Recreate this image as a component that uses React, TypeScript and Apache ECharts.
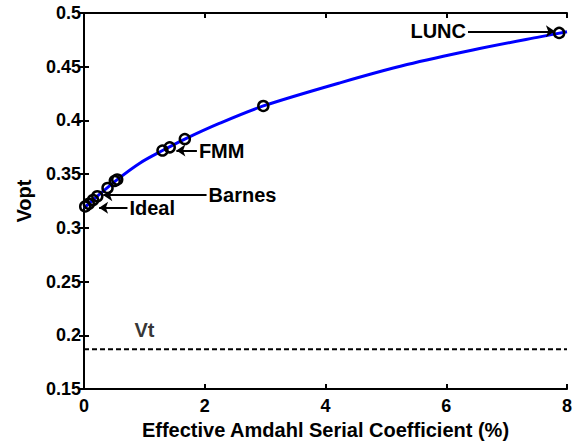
import React, { useEffect, useRef } from "react";
import * as echarts from "echarts";

// Fitted Vopt curve
const curveX = [0, 0.21, 0.55, 0.93, 1.3, 1.67, 2.25, 2.97, 4.24, 5.35, 6.44, 7.55, 8.0];
const curveY = [0.3185, 0.329, 0.345, 0.3605, 0.372, 0.3827, 0.3975, 0.4135, 0.435, 0.452, 0.4656, 0.4778, 0.4825];

// Measured applications (circles)
const pointX = [0.02, 0.08, 0.15, 0.22, 0.39, 0.51, 0.55, 1.3, 1.42, 1.67, 2.97, 7.87];
const pointY = [0.320, 0.3225, 0.326, 0.3295, 0.3372, 0.3437, 0.3451, 0.372, 0.375, 0.3827, 0.4135, 0.4815];

// Threshold line
const vtValue = 0.187;
const vtLabel = "Vt";
const vtLabelX = 1.0;

// Annotations
const annotationLabels = ["LUNC", "FMM", "Barnes", "Ideal"];
const annotationFromX = [6.36, 1.87, 2.03, 0.72];
const annotationToX = [7.8, 1.53, 0.32, 0.25];
const annotationY = [0.483, 0.372, 0.3305, 0.3187];

// Axes
const xMin = 0, xMax = 8, xStep = 2;
const yMin = 0.15, yMax = 0.5, yStep = 0.05;
const xTitle = "Effective Amdahl Serial Coefficient (%)";
const yTitle = "Vopt";

const FONT = "'Liberation Sans', Arial, Helvetica, sans-serif";

export default function App() {
  const ref = useRef<HTMLDivElement>(null);
  useEffect(() => {
    document.body.style.margin = "0";
    const chart = echarts.init(ref.current!, null, { renderer: "svg" });
    const axisLine = { show: true, lineStyle: { color: "#000", width: 2 } };
    const tickStyle = { show: true, inside: true, length: 5, lineStyle: { color: "#000", width: 2 } };
    const labelStyle = { color: "#000", fontFamily: FONT, fontWeight: "bold" as const, fontSize: 18 };
    const textBase = { color: "#000", fontFamily: FONT, fontWeight: "bold" as const, fontSize: 20 };

    const markData = annotationLabels.map((name, i) => [
      { coord: [annotationFromX[i], annotationY[i]], name },
      { coord: [annotationToX[i], annotationY[i]] },
    ]);

    chart.setOption({
      animation: false,
      backgroundColor: "#fff",
      grid: { left: 84, top: 13, right: 18, bottom: 53, containLabel: false },
      xAxis: [
        {
          type: "value", min: xMin, max: xMax, interval: xStep,
          axisLine, axisTick: tickStyle, splitLine: { show: false },
          axisLabel: { ...labelStyle, margin: 8 },
          name: xTitle, nameLocation: "middle", nameGap: 21,
          nameTextStyle: textBase,
        },
        {
          type: "value", position: "top", min: xMin, max: xMax, interval: xStep,
          axisLine, axisTick: tickStyle, splitLine: { show: false }, axisLabel: { show: false },
        },
      ],
      yAxis: [
        {
          type: "value", min: yMin, max: yMax, interval: yStep,
          axisLine, axisTick: tickStyle, splitLine: { show: false },
          axisLabel: { ...labelStyle, margin: 3 },
          name: yTitle, nameLocation: "middle", nameGap: 50,
          nameTextStyle: textBase,
        },
        {
          type: "value", position: "right", min: yMin, max: yMax, interval: yStep,
          axisLine, axisTick: tickStyle, splitLine: { show: false }, axisLabel: { show: false },
        },
      ],
      series: [
        {
          type: "line",
          data: curveX.map((x, i) => [x, curveY[i]]),
          smooth: 0.3,
          showSymbol: false,
          symbol: "none",
          lineStyle: { color: "#0000ff", width: 3 },
          z: 2,
        },
        {
          type: "scatter",
          data: pointX.map((x, i) => [x, pointY[i]]),
          symbol: "circle",
          symbolSize: 10,
          itemStyle: { color: "rgba(0,0,0,0)", borderColor: "#000", borderWidth: 2.5, opacity: 1 },
          z: 3,
        },
        {
          type: "line",
          data: [[xMin, vtValue], [xMax, vtValue]],
          symbol: "none",
          lineStyle: { color: "#000", width: 2, type: [5, 3] },
          z: 2,
        },
        {
          type: "scatter",
          data: [[vtLabelX, vtValue]],
          symbolSize: 0,
          label: { show: true, position: "top", distance: 9, formatter: vtLabel, ...textBase },
          z: 4,
        },
        {
          type: "line",
          data: [],
          markLine: {
            silent: true,
            symbol: ["none", "arrow"],
            symbolSize: 9,
            lineStyle: { color: "#000", width: 2, type: "solid" },
            label: {
              show: true, position: "start", distance: 2,
              formatter: (p: any) => p.name, ...textBase,
            },
            data: markData,
          },
        },
      ],
    });
    return () => chart.dispose();
  }, []);
  return <div ref={ref} style={{ width: 585, height: 445 }} />;
}
